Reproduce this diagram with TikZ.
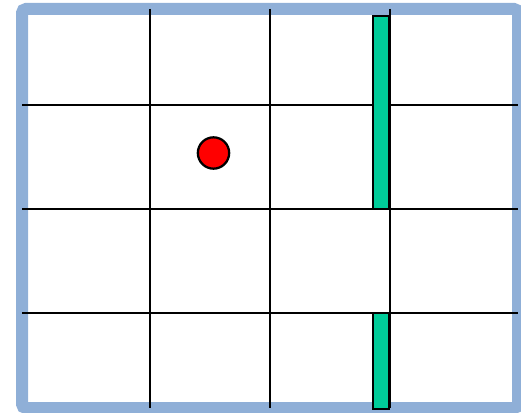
\documentclass[tikz,border=0pt]{standalone}
\usepackage{tikz}
\usetikzlibrary{positioning}
\definecolor{frameblue}{HTML}{8FAFD7}
\definecolor{wallgreen}{HTML}{00CC99}
\tikzset{
  frame/.style={draw=frameblue, line width=9pt, rounded corners=3pt},
  gridline/.style={draw=black, line width=1.7pt},
  wall/.style={draw=black, line width=1.7pt, fill=wallgreen},
  agent/.style={circle, draw=black, line width=1.7pt, fill=red, minimum size=23.5pt, inner sep=0pt},
}
\begin{document}
\begin{tikzpicture}[x=0.75pt, y=-0.75pt]
  \useasboundingbox (0,0) rectangle (521,413);
  % outer frame
  \draw[frame] (22,9) rectangle (518,408);
  % grid
  \foreach \y in {105,209,313}
    \draw[gridline] (22,\y) -- (518,\y);
  \foreach \x in {150,270,390}
    \draw[gridline] (\x,9) -- (\x,408);
  % walls
  \draw[wall] (373,16) rectangle (389,209);
  \draw[wall] (373,313) rectangle (389,409);
  % agent
  \node[agent] (dot) at (213.5,153) {};
\end{tikzpicture}
\end{document}
